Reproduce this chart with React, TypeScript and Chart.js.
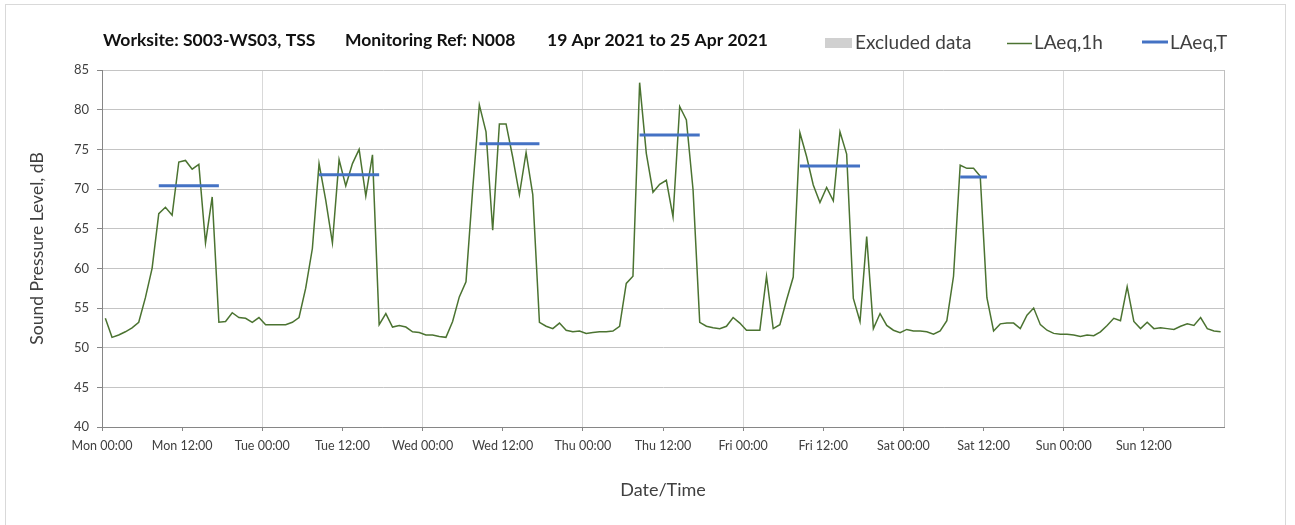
import React, { useEffect, useRef } from "react";
import { Chart, registerables } from "chart.js";

Chart.register(...registerables);

// Hourly LAeq,1h values (dB), one array per day, 24 hourly values each
const mon = [53.7, 51.3, 51.6, 52.0, 52.5, 53.2, 56.3, 60.0, 66.9, 67.7, 66.7, 73.4, 73.6, 72.5, 73.1, 63.2, 69.0, 53.2, 53.3, 54.4, 53.8, 53.7, 53.2, 53.8];
const tue = [52.9, 52.9, 52.9, 52.9, 53.2, 53.8, 57.5, 62.5, 73.2, 68.6, 63.2, 73.7, 70.4, 73.2, 75.0, 69.1, 74.3, 52.9, 54.3, 52.6, 52.8, 52.6, 52.0, 51.9];
const wed = [51.6, 51.6, 51.4, 51.3, 53.3, 56.4, 58.3, 69.9, 80.6, 77.2, 64.8, 78.2, 78.2, 74.0, 69.3, 74.6, 69.3, 53.2, 52.7, 52.4, 53.1, 52.2, 52.0, 52.1];
const thu = [51.8, 51.9, 52.0, 52.0, 52.1, 52.7, 58.1, 59.0, 83.4, 74.5, 69.6, 70.6, 71.1, 66.5, 80.4, 78.7, 69.9, 53.2, 52.7, 52.5, 52.4, 52.7, 53.8, 53.1];
const fri = [52.2, 52.2, 52.2, 59.0, 52.4, 52.9, 56.0, 58.9, 77.1, 74.1, 70.5, 68.3, 70.2, 68.5, 77.2, 74.4, 56.2, 53.3, 64.0, 52.4, 54.3, 52.8, 52.2, 51.9];
const sat = [52.3, 52.1, 52.1, 52.0, 51.7, 52.1, 53.4, 59.0, 73.0, 72.6, 72.6, 71.6, 56.3, 52.1, 53.0, 53.1, 53.1, 52.4, 54.1, 55.0, 52.9, 52.2, 51.8, 51.7];
const sun = [51.7, 51.6, 51.4, 51.6, 51.5, 52.0, 52.8, 53.7, 53.4, 57.7, 53.3, 52.4, 53.2, 52.4, 52.5, 52.4, 52.3, 52.7, 53.0, 52.8, 53.8, 52.4, 52.1, 52.0];

// LAeq,T per day: value and start/end hour (within day)
const laeqTValues = [70.4, 71.8, 75.7, 76.8, 72.9, 71.5];
const laeqTStart = [8.5, 8.5, 8.5, 8.5, 8.5, 8.5];
const laeqTEnd = [17.5, 17.5, 17.5, 17.5, 17.5, 12.5];

const dayNames = ["Mon", "Tue", "Wed", "Thu", "Fri", "Sat", "Sun"];
const yTicks = [40, 45, 50, 55, 60, 65, 70, 75, 80, 85];

const titleParts = ["Worksite: S003-WS03, TSS", "Monitoring Ref: N008", "19 Apr 2021 to 25 Apr 2021"];
const legendLabels = ["Excluded data", "LAeq,1h", "LAeq,T"];

const FONT = "Lato, 'Open Sans', sans-serif";
const GREEN = "#4b7331";
const BLUE = "#4472c4";

export default function App() {
  const ref = useRef<HTMLCanvasElement | null>(null);

  useEffect(() => {
    if (!ref.current) return;
    const days = [mon, tue, wed, thu, fri, sat, sun];
    const hourly: { x: number; y: number }[] = [];
    days.forEach((d, di) => d.forEach((v, h) => hourly.push({ x: di * 24 + h + 0.5, y: v })));

    const laeqT: { x: number; y: number | null }[] = [];
    laeqTValues.forEach((v, i) => {
      laeqT.push({ x: i * 24 + laeqTStart[i], y: v });
      laeqT.push({ x: i * 24 + laeqTEnd[i], y: v });
      laeqT.push({ x: i * 24 + laeqTEnd[i] + 0.1, y: null });
    });

    const frame = {
      id: "frame",
      beforeDraw(chart: any) {
        const c = chart.ctx;
        c.save();
        c.fillStyle = "#ffffff";
        c.fillRect(0, 0, chart.width, chart.height);
        c.strokeStyle = "#d9d9d9";
        c.lineWidth = 1;
        c.strokeRect(5.5, 4.5, 1280, 540);
        c.restore();
      },
      afterDraw(chart: any) {
        const c = chart.ctx;
        c.save();
        c.textBaseline = "middle";
        c.fillStyle = "#111111";
        c.font = `bold 17.5px ${FONT}`;
        const tx = [103, 345, 547];
        titleParts.forEach((t, i) => c.fillText(t, tx[i], 40));
        // legend
        c.font = `19px ${FONT}`;
        c.fillStyle = "#d0d0d0";
        c.fillRect(825, 38, 27, 10);
        c.fillStyle = "#404040";
        c.fillText(legendLabels[0], 855, 43);
        c.strokeStyle = GREEN;
        c.lineWidth = 1.5;
        c.beginPath();
        c.moveTo(1007, 43.5);
        c.lineTo(1032, 43.5);
        c.stroke();
        c.fillText(legendLabels[1], 1034, 43);
        c.strokeStyle = BLUE;
        c.lineWidth = 3;
        c.beginPath();
        c.moveTo(1142, 42);
        c.lineTo(1168, 42);
        c.stroke();
        c.fillText(legendLabels[2], 1170, 43);
        c.restore();
      },
    };

    const chart = new Chart(ref.current, {
      type: "line",
      data: {
        datasets: [
          {
            label: legendLabels[2],
            data: laeqT as any,
            borderColor: BLUE,
            borderWidth: 3,
            pointRadius: 0,
            spanGaps: false,
            order: 0,
          },
          {
            label: legendLabels[1],
            data: hourly as any,
            borderColor: GREEN,
            borderWidth: 1.5,
            pointRadius: 0,
            tension: 0,
            order: 1,
          },
        ],
      },
      options: {
        animation: false,
        responsive: false,
        devicePixelRatio: 1,
        layout: { padding: { top: 70, right: 71, bottom: 0, left: 0 } },
        plugins: { legend: { display: false }, title: { display: false }, tooltip: { enabled: false } },
        scales: {
          x: {
            type: "linear",
            min: 0,
            max: 168,
            afterBuildTicks: (scale: any) => {
              const t = [];
              for (let v = 0; v <= 156; v += 12) t.push({ value: v });
              t.push({ value: 168 });
              scale.ticks = t;
            },
            afterFit: (scale: any) => {
              scale.height = 98;
            },
            ticks: {
              autoSkip: false,
              maxRotation: 0,
              padding: 7,
              color: "#404040",
              font: { family: FONT, size: 12.5 },
              callback: (v: any) => {
                const n = Number(v);
                if (n >= 168) return "";
                const d = Math.floor(n / 24);
                const h = n % 24;
                return `${dayNames[d]} ${h === 0 ? "00" : "12"}:00`;
              },
            },
            grid: {
              color: (ctx: any) => {
                const v = ctx.tick ? ctx.tick.value : 0;
                if (v === 168) return "#bfbfbf";
                return v % 24 === 0 ? "#d9d9d9" : "rgba(0,0,0,0)";
              },
              tickColor: (ctx: any) => (ctx.tick && ctx.tick.value === 168 ? "rgba(0,0,0,0)" : "#868686"),
              tickLength: 4,
              lineWidth: 1,
            },
            border: { color: "#868686", width: 1 },
            title: {
              display: true,
              text: "Date/Time",
              color: "#404040",
              font: { family: FONT, size: 18 },
              padding: { top: 4, bottom: 24 },
            },
          },
          y: {
            min: 40,
            max: 85,
            afterBuildTicks: (scale: any) => {
              scale.ticks = yTicks.map((v) => ({ value: v }));
            },
            afterFit: (scale: any) => {
              scale.width = 102;
            },
            ticks: {
              padding: 8,
              color: "#404040",
              font: { family: FONT, size: 13 },
            },
            grid: {
              color: "#c4c4c4",
              tickColor: "#868686",
              tickLength: 5,
              lineWidth: 1,
            },
            border: { color: "#868686", width: 1 },
            title: {
              display: true,
              text: "Sound Pressure Level, dB",
              color: "#404040",
              font: { family: FONT, size: 17.5 },
              padding: { top: 27, bottom: 0 },
            },
          },
        },
      },
      plugins: [frame],
    });
    return () => chart.destroy();
  }, []);

  return (
    <div style={{ position: "fixed", left: 0, top: 0, width: 1295, height: 525, background: "#fff" }}>
      <canvas ref={ref} width={1295} height={525} style={{ display: "block", width: 1295, height: 525 }} />
    </div>
  );
}
